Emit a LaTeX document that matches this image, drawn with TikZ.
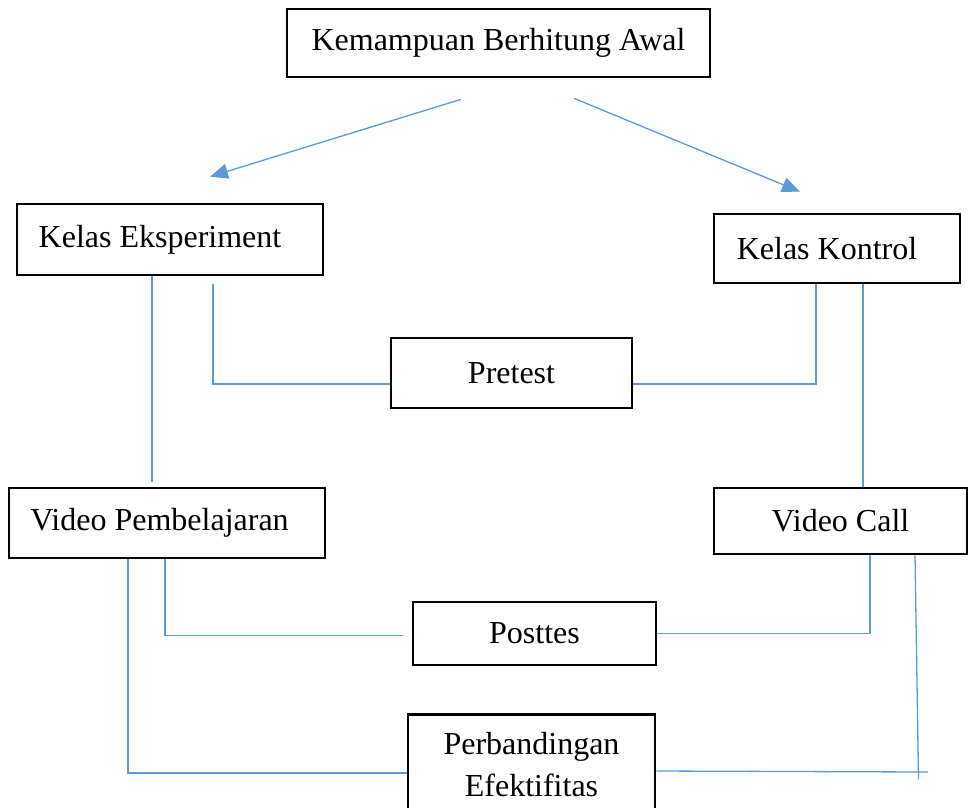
\documentclass[tikz,border=0pt]{standalone}
\usepackage{fontspec}
\setmainfont{Liberation Serif}
\usetikzlibrary{arrows.meta}
\definecolor{linkblue}{HTML}{5B9BD5}

\begin{document}
\begin{tikzpicture}[
  x=1pt,y=-1pt,
  box/.style={draw=black,line width=2.7pt,inner sep=0pt,align=center,font=\fontsize{32}{42}\selectfont},
  link/.style={draw=linkblue,line width=1.3pt},
  arr/.style={link,-{Triangle[length=18pt,width=15pt]}}
]
\clip (0,0) rectangle (968,807);

\node[box,minimum width=423pt,minimum height=68pt] (awal) at (498.5,43) {Kemampuan Berhitung Awal};
\node[box,minimum width=306pt,minimum height=71pt] (eks) at (170,239.5) {Kelas Eksperiment\hspace{20pt}};
\node[box,minimum width=246pt,minimum height=69pt] (kon) at (837,248.5) {Kelas Kontrol\hspace{20pt}};
\node[box,minimum width=241pt,minimum height=70pt] (pre) at (511.5,373) {Pretest};
\node[box,minimum width=316pt,minimum height=70pt] (vp) at (167,523) {Video Pembelajaran\hspace{15pt}};
\node[box,minimum width=253pt,minimum height=66pt] (vc) at (840.5,521) {Video Call};
\node[box,minimum width=243pt,minimum height=63pt] (post) at (534.5,633.5) {Posttes};
\node[box,minimum width=247pt,inner ysep=18pt,anchor=north] (perb) at (531.5,713) {Perbandingan\\Efektifitas};

\draw[arr] ([xshift=-37.5pt,yshift=-21pt]awal.south) -- ([xshift=40pt,yshift=26pt]eks.north);
\draw[arr] ([xshift=75.5pt,yshift=-20pt]awal.south) -- ([xshift=-37pt,yshift=21pt]kon.north);

\draw[link] ([xshift=-18pt]eks.south) -- ([xshift=-18pt,yshift=5pt]eks.south |- vp.north);
\draw[link] ([xshift=43pt,yshift=-8pt]eks.south) |- ([yshift=-11pt]pre.west);
\draw[link] ([xshift=-21pt]kon.south) |- ([yshift=-11pt]pre.east);
\draw[link] ([xshift=26pt]kon.south) -- ([xshift=26pt]kon.south |- vc.north);

\draw[link] ([xshift=-2pt]vp.south) |- ([xshift=-9pt,yshift=-2pt]post.west);
\draw[link] ([xshift=-39pt]vp.south) |- ([yshift=-60pt]perb.north west);
\draw[link] ([xshift=29.5pt]vc.south) |- (post.east);
\draw[link] ([xshift=74.5pt]vc.south) -- ([xshift=78pt,yshift=-66pt]vc.south |- perb.north);
\draw[link] ([yshift=-58pt]perb.north east) -- ([xshift=87.5pt,yshift=-59pt]vc.south |- perb.north);
\end{tikzpicture}
\end{document}
